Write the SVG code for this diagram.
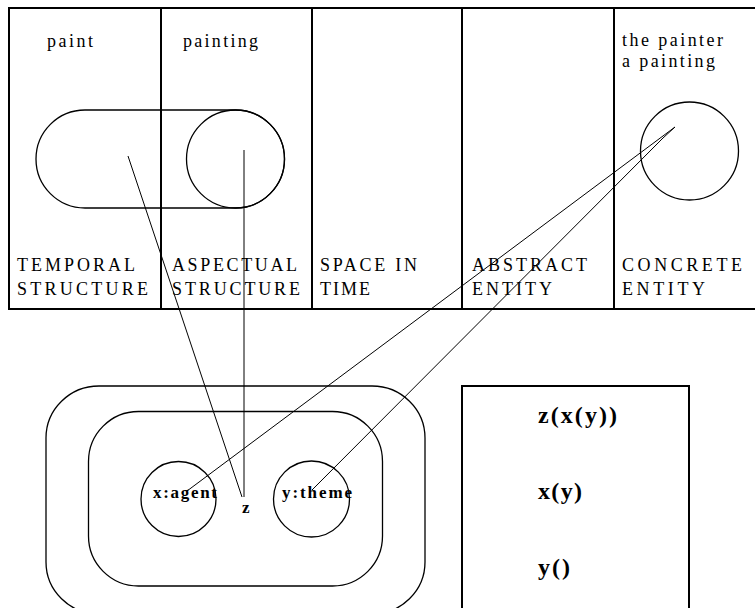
<svg xmlns="http://www.w3.org/2000/svg" width="755" height="608" viewBox="0 0 755 608">
<style>
  .frame { fill: none; stroke: #000; stroke-width: 2; }
  .shape { fill: none; stroke: #000; stroke-width: 1.3; }
  .conn { fill: none; stroke: #000; stroke-width: 1; }
  .txt { font-family: "Liberation Serif", serif; font-size: 18px; fill: #000; }
  .cap { font-family: "Liberation Serif", serif; font-size: 18px; fill: #000; }
  .lbl { font-family: "Liberation Serif", serif; font-size: 17px; font-weight: bold; fill: #000; }
  .math { font-family: "Liberation Serif", serif; font-size: 24px; font-weight: bold; fill: #000; }
</style>
<rect width="755" height="608" fill="#fff"/>

<g id="frame">
  <line class="frame" x1="9" y1="8" x2="756" y2="8"/>
  <line class="frame" x1="9" y1="309" x2="756" y2="309"/>
  <line class="frame" x1="9" y1="7" x2="9" y2="310"/>
  <line class="frame" x1="161" y1="7" x2="161" y2="310"/>
  <line class="frame" x1="312" y1="7" x2="312" y2="310"/>
  <line class="frame" x1="462" y1="7" x2="462" y2="310"/>
  <line class="frame" x1="614" y1="7" x2="614" y2="310"/>
</g>

<g id="temporal">
  <text class="txt" x="47" y="47" textLength="46" lengthAdjust="spacing">paint</text>
  <text class="cap" x="17" y="271" textLength="118" lengthAdjust="spacing">TEMPORAL</text>
  <text class="cap" x="17" y="295" textLength="131" lengthAdjust="spacing">STRUCTURE</text>
  <rect class="shape" x="36" y="110" width="248.5" height="98" rx="49" ry="49"/>
</g>

<g id="aspectual">
  <text class="txt" x="183" y="47" textLength="75" lengthAdjust="spacing">painting</text>
  <text class="cap" x="172" y="271" textLength="125" lengthAdjust="spacing">ASPECTUAL</text>
  <text class="cap" x="172" y="295" textLength="128" lengthAdjust="spacing">STRUCTURE</text>
  <circle class="shape" cx="235.5" cy="159" r="49"/>
</g>

<g id="space-in-time">
  <text class="cap" x="320" y="271" textLength="97" lengthAdjust="spacing">SPACE IN</text>
  <text class="cap" x="320" y="295" textLength="50" lengthAdjust="spacing">TIME</text>
</g>

<g id="abstract-entity">
  <text class="cap" x="472" y="271" textLength="115" lengthAdjust="spacing">ABSTRACT</text>
  <text class="cap" x="472" y="295" textLength="80" lengthAdjust="spacing">ENTITY</text>
</g>

<g id="concrete-entity">
  <text class="txt" x="622" y="46" textLength="101" lengthAdjust="spacing">the painter</text>
  <text class="txt" x="622" y="67" textLength="93" lengthAdjust="spacing">a painting</text>
  <text class="cap" x="622" y="271" textLength="120" lengthAdjust="spacing">CONCRETE</text>
  <text class="cap" x="622" y="295" textLength="83" lengthAdjust="spacing">ENTITY</text>
  <circle class="shape" cx="689.5" cy="151" r="49"/>
</g>

<g id="event-structure">
  <rect class="shape" x="46" y="386" width="379" height="228" rx="53" ry="52"/>
  <rect class="shape" x="88.5" y="411.5" width="294" height="174.5" rx="50" ry="50"/>
</g>

<g id="x-agent">
  <circle class="shape" cx="178.5" cy="499" r="37.5"/>
  <text class="lbl" x="153" y="498" textLength="64" lengthAdjust="spacing">x:agent</text>
</g>

<g id="y-theme">
  <circle class="shape" cx="311.5" cy="499" r="38"/>
  <text class="lbl" x="282" y="498" textLength="70" lengthAdjust="spacing">y:theme</text>
</g>

<g id="z">
  <text class="lbl" x="242" y="513" font-size="15">z</text>
</g>

<g id="formula-box">
  <rect class="frame" x="462" y="386" width="227" height="230"/>
  <text class="math" x="538" y="423" textLength="79" lengthAdjust="spacing">z(x(y))</text>
  <text class="math" x="538" y="499" textLength="44" lengthAdjust="spacing">x(y)</text>
  <text class="math" x="538" y="575" textLength="32" lengthAdjust="spacing">y()</text>
</g>

<g id="connectors">
  <line class="conn" x1="128" y1="156" x2="242" y2="497"/>
  <line class="conn" x1="244" y1="150" x2="244" y2="497" stroke-width="2"/>
  <line class="conn" x1="675" y1="127" x2="187" y2="491"/>
  <line class="conn" x1="675" y1="127" x2="663" y2="138"/>
  <line class="conn" x1="663" y1="138" x2="312" y2="490"/>
</g>
</svg>
